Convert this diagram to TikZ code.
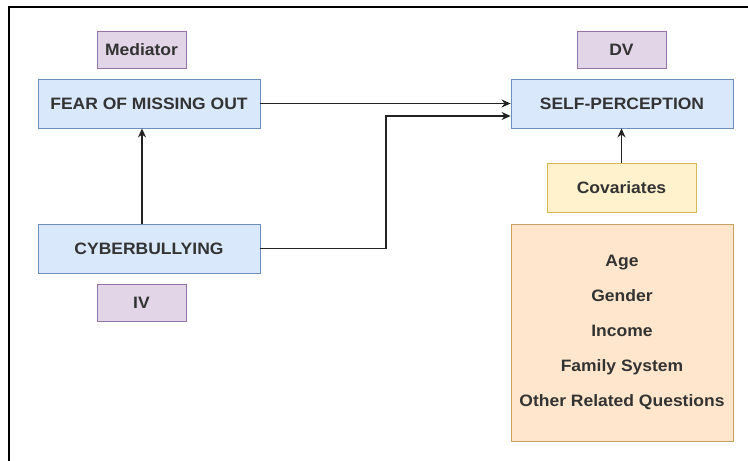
\documentclass[tikz,border=0pt]{standalone}
\usepackage{fontspec}
\setmainfont{Liberation Sans}[FakeStretch=1.06]
\usetikzlibrary{arrows.meta}
\definecolor{txt}{HTML}{333333}
\definecolor{bluefill}{HTML}{DAE8FC}
\definecolor{blueline}{HTML}{6C8EBF}
\definecolor{purpfill}{HTML}{E1D5E7}
\definecolor{purpline}{HTML}{9673A6}
\definecolor{yelfill}{HTML}{FFF2CC}
\definecolor{yelline}{HTML}{D6B656}
\definecolor{orfill}{HTML}{FFE6CC}
\definecolor{orline}{HTML}{C8A060}
\definecolor{arr}{HTML}{222222}
\tikzset{
  base/.style={draw, line width=0.8pt, inner sep=0pt, text=txt,
    font=\fontsize{16.5}{35}\selectfont\bfseries, align=center},
  bluebox/.style={base, fill=bluefill, draw=blueline, minimum width=222pt, minimum height=49pt},
  tagbox/.style={base, fill=purpfill, draw=purpline, minimum width=89pt, minimum height=37pt},
  covbox/.style={base, fill=yelfill, draw=yelline, minimum width=149pt, minimum height=49pt},
  listbox/.style={base, fill=orfill, draw=orline, minimum width=222pt, minimum height=217pt},
  conn/.style={draw=arr, line width=1.3pt, -{Stealth[length=9pt,width=8pt]}},
}
\begin{document}
\begin{tikzpicture}[x=1pt,y=-1pt]
\useasboundingbox (0,0) rectangle (748,461);
\fill[white] (0,0) rectangle (748,461);
\draw[line width=1.5pt] (9,462) -- (9,7) -- (749,7);

\node[tagbox] (med) at (141.5,49.5) {Mediator};
\node[bluebox] (fomo) at (149,103.5) {FEAR OF MISSING OUT};
\node[bluebox] (cb) at (149,248.5) {CYBERBULLYING};
\node[tagbox] (iv) at (141.5,302.5) {IV};
\node[tagbox] (dv) at (621.5,49.5) {DV};
\node[bluebox] (sp) at (622,103.5) {SELF-PERCEPTION};
\node[covbox] (cov) at (621.5,187.5) {Covariates};
\node[listbox] (list) at (622,332.5) {Age\\Gender\\Income\\Family System\\Other Related Questions};

\coordinate (bend) at (386,248.5);
\draw[conn] (fomo.east) -- (sp.west);
\draw[conn] (cb.east) -- (bend) |- ([yshift=-12.5pt]sp.west);
\draw[conn] ([xshift=-7pt]cb.north) -- ([xshift=-7pt]fomo.south);
\draw[conn] (cov.north) -- (cov.north |- sp.south);
\end{tikzpicture}
\end{document}
